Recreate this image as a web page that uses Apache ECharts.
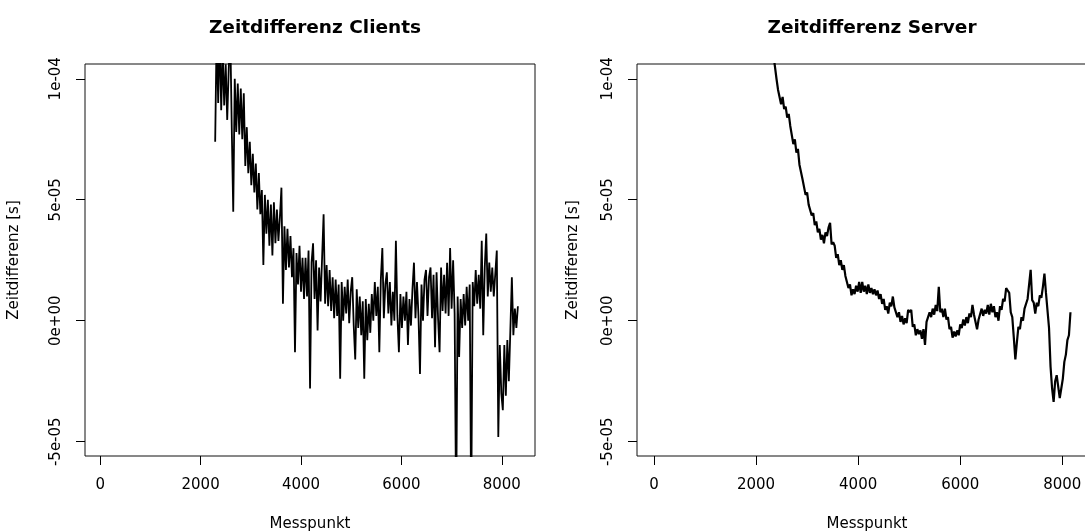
<!DOCTYPE html>
<html>
<head>
<meta charset="utf-8">
<script src="https://cdn.jsdelivr.net/npm/echarts@6/dist/echarts.min.js"></script>
<style>
  html, body { margin: 0; padding: 0; background: #fff; }
  #chart { width: 1085px; height: 532px; }
</style>
</head>
<body>
<div id="chart"></div>
<script>
// Messpunkt index of first value, spacing between read values
var clientStart = 2290;
var serverStart = 2340;
var step = 30;

// Zeitdifferenz in units of 1e-5 s (noise band zigzag)
var clientVals = [
  7.4, 12, 9.0, 12, 8.7, 11.2, 8.9, 10.6, 8.3, 10.4,
  12, 8.0, 4.5, 10.0, 7.8, 9.8, 7.7, 9.6, 7.5, 9.4,
  6.4, 8.0, 6.1, 7.4, 5.6, 6.9, 5.3, 6.5, 4.6, 6.1,
  4.4, 5.4, 2.3, 5.2, 3.6, 5.0, 3.1, 4.8, 2.7, 4.9,
  3.2, 4.6, 3.3, 4.3, 5.5, 0.7, 3.9, 2.1, 3.8, 2.2,
  3.5, 1.8, 3.0, -1.3, 2.8, 1.5, 3.1, 1.2, 2.6, 0.9,
  2.6, 1.0, 2.9, -2.8, 2.4, 3.2, 0.9, 2.5, -0.4, 2.2,
  0.8, 2.6, 4.4, 0.7, 2.3, 0.6, 2.1, 0.4, 1.8, 0.1,
  1.7, 0.2, 1.5, -2.4, 1.6, 0.0, 1.4, 0.3, 1.7, -0.1,
  1.2, 1.8, -0.2, -1.6, 1.3, -0.3, 1.0, -0.6, 0.8, -2.4,
  0.9, -0.8, 0.7, -0.5, 1.1, 0.0, 1.6, 0.2, 1.4, -1.3,
  1.7, 3.0, 0.1, 1.5, 2.0, 0.3, 1.6, -0.2, 1.2, 0.0,
  3.3, 0.2, -1.3, 1.1, -0.3, 1.0, 0.0, 1.2, -1.0, 0.9,
  -0.2, 1.3, 2.4, 0.1, 1.6, 0.2, -2.2, 1.5, 0.0, 1.7,
  2.1, 0.2, 1.8, 2.2, 0.1, 1.9, -1.1, 2.0, 0.1, -1.3,
  2.2, 0.4, 1.9, 0.3, 2.4, 0.2, 3.0, 0.5, 2.5, 0.3,
  -8, 1.0, -1.5, 0.9, -0.3, 1.1, -0.2, 1.4, 0.0, 1.5,
  -8, 1.6, 0.6, 2.1, 0.7, 1.9, 0.5, 3.3, -0.6, 2.2,
  3.6, 1.0, 2.4, 1.2, 2.2, 1.0, 1.0, 2.9, -4.8, -1.0,
  -3.0, -3.7, -1.0, -3.1, -0.8, -2.5, -0.4, 1.8, -0.6, 0.5,
  -0.3, 0.6
];

var serverVals = [
  11, 10.5, 10.0, 9.55, 9.6, 8.95, 9.25, 8.75, 8.85, 8.4,
  8.55, 8.05, 8.1, 7.3, 7.5, 6.95, 7.1, 6.45, 6.5, 5.85,
  5.8, 5.2, 5.3, 4.8, 4.85, 4.35, 4.45, 3.95, 4.1, 3.65,
  3.8, 3.35, 3.55, 3.2, 3.65, 3.5, 3.85, 4.05, 3.15, 3.25,
  3.1, 2.6, 2.75, 2.3, 2.5, 2.1, 2.3, 1.85, 1.9, 1.35,
  1.5, 1.05, 1.3, 1.1, 1.45, 1.2, 1.6, 1.15, 1.6, 1.2,
  1.45, 1.1, 1.5, 1.15, 1.35, 1.1, 1.3, 1.05, 1.25, 0.9,
  1.1, 0.7, 0.9, 0.45, 0.6, 0.3, 0.75, 0.6, 1.0, 0.55,
  0.6, 0.15, 0.35, -0.05, 0.2, -0.15, 0.1, -0.1, 0.45, 0.35,
  0.45, -0.25, -0.15, -0.6, -0.35, -0.55, -0.4, -0.75, -0.35, -1.0,
  -0.05, -0.1, 0.35, 0.15, 0.5, 0.25, 0.65, 0.4, 1.4, 0.35,
  0.5, 0.15, 0.5, 0.05, 0.15, -0.35, -0.25, -0.7, -0.45, -0.65,
  -0.4, -0.6, -0.15, -0.3, 0.05, -0.2, 0.15, -0.1, 0.3, 0.15,
  0.65, 0.25, 0.25, -0.35, 0.05, 0.0, 0.5, 0.2, 0.45, 0.3,
  0.65, 0.25, 0.7, 0.35, 0.6, 0.15, 0.35, 0.0, 0.6, 0.45,
  0.9, 0.8, 1.35, 1.25, 1.15, 0.35, 0.15, -0.7, -1.6, -0.9,
  -0.25, -0.35, 0.15, 0.0, 0.5, 0.45, 0.9, 0.85, 2.1, 0.85,
  0.75, 0.3, 0.75, 0.6, 1.05, 0.95, 1.4, 1.95, 1.15, 1.2,
  -0.3, -1.9, -2.8, -3.35, -2.5, -2.25, -2.2, -3.2, -2.8, -2.4,
  -1.7, -1.4, -0.8, -0.6, 0.35
];

var xTicks = [0, 2000, 4000, 6000, 8000];
var yTicks = [-5, 0, 5, 10];
var yTickLabels = ['-5e-05', '0e+00', '5e-05', '1e-04'];

function toPoints(start, vals) {
  return vals.map(function (v, i) { return [start + i * step, v]; });
}

var chart = echarts.init(document.getElementById('chart'), null, { renderer: 'canvas' });
var font = 'DejaVu Sans';

function xAxisFor(idx, min, max) {
  return {
    type: 'value', gridIndex: idx, min: min, max: max,
    name: 'Messpunkt', nameLocation: 'middle', nameGap: 61,
    nameTextStyle: { fontFamily: font, fontSize: 15, color: '#000' },
    axisLine: { show: false, onZero: false },
    axisTick: { show: true, inside: false, length: 9, customValues: xTicks, lineStyle: { color: '#000', width: 1 } },
    axisLabel: {
      customValues: xTicks, margin: 22, fontFamily: font, fontSize: 15, color: '#000',
      formatter: function (v) { return String(v); }
    },
    splitLine: { show: false }
  };
}

function yAxisFor(idx, gap) {
  return {
    type: 'value', gridIndex: idx, min: -5.59, max: 10.61,
    name: 'Zeitdifferenz [s]', nameLocation: 'middle', nameGap: gap, nameRotate: 90,
    nameTextStyle: { fontFamily: font, fontSize: 15, color: '#000' },
    axisLine: { show: false, onZero: false },
    axisTick: { show: true, inside: false, length: 9, customValues: yTicks, lineStyle: { color: '#000', width: 1 } },
    axisLabel: {
      customValues: yTicks, rotate: 90, margin: 21, fontFamily: font, fontSize: 15, color: '#000',
      formatter: function (v) {
        var k = yTicks.indexOf(v);
        return k >= 0 ? yTickLabels[k] : '';
      }
    },
    splitLine: { show: false }
  };
}

var option = {
  animation: false,
  backgroundColor: '#fff',
  title: [
    { text: 'Zeitdifferenz Clients', left: 310, top: 14, textAlign: 'center',
      textStyle: { fontFamily: font, fontSize: 18.5, fontWeight: 'bold', color: '#000' } },
    { text: 'Zeitdifferenz Server', left: 867, top: 14, textAlign: 'center',
      textStyle: { fontFamily: font, fontSize: 18.5, fontWeight: 'bold', color: '#000' } }
  ],
  grid: [
    { left: 85, top: 64, width: 450, height: 392, outerBoundsMode: 'none', show: true, borderColor: '#111', borderWidth: 1, backgroundColor: 'transparent' },
    { left: 637, top: 64, width: 460, height: 392, outerBoundsMode: 'none', show: true, borderColor: '#111', borderWidth: 1, backgroundColor: 'transparent' }
  ],
  xAxis: [xAxisFor(0, -303, 8661), xAxisFor(1, -333, 8680)],
  yAxis: [yAxisFor(0, 63), yAxisFor(1, 56)],
  series: [
    {
      type: 'line', xAxisIndex: 0, yAxisIndex: 0, clip: true,
      showSymbol: false, symbol: 'none',
      lineStyle: { color: '#000', width: 1.8 },
      data: toPoints(clientStart, clientVals)
    },
    {
      type: 'line', xAxisIndex: 1, yAxisIndex: 1, clip: true,
      showSymbol: false, symbol: 'none',
      lineStyle: { color: '#000', width: 2.2 },
      data: toPoints(serverStart, serverVals)
    }
  ]
};
chart.setOption(option);
</script>
</body>
</html>
